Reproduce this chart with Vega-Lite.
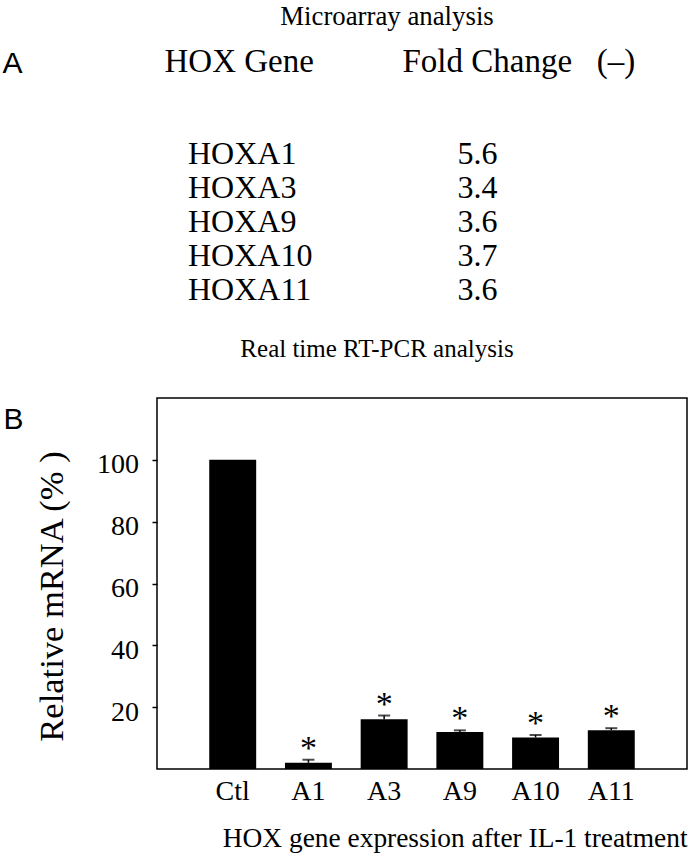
{
  "$schema": "https://vega.github.io/schema/vega-lite/v6.json",
  "padding": {"left": 2, "top": 4, "right": 0, "bottom": 0},
  "background": "white",
  "config": {
    "font": "Liberation Serif",
    "view": {"stroke": null},
    "text": {"font": "Liberation Serif"},
    "style": {"guide-label": {"font": "Liberation Serif"}, "guide-title": {"font": "Liberation Serif"}},
    "axis": {"labelColor": "black", "titleColor": "black", "tickColor": "black", "domainColor": "black", "titleFontWeight": "normal", "labelFont": "Liberation Serif", "titleFont": "Liberation Serif", "grid": false},
    "title": {"color": "black", "fontWeight": "normal", "font": "Liberation Serif"}
  },
  "bounds": "flush",
  "spacing": 76,
  "vconcat": [
    {
      "width": 530,
      "height": 230,
      "view": {"stroke": null},
      "title": {"text": "Microarray analysis", "font": "Liberation Serif", "fontSize": 26.8, "anchor": "middle", "frame": "group", "dx": -35, "baseline": "alphabetic", "offset": -7},
      "data": {"values": [
        {"gene": "HOXA1", "fold": 5.6},
        {"gene": "HOXA3", "fold": 3.4},
        {"gene": "HOXA9", "fold": 3.6},
        {"gene": "HOXA10", "fold": 3.7},
        {"gene": "HOXA11", "fold": 3.6}
      ]},
      "encoding": {
        "y": {"field": "gene", "type": "nominal", "sort": null,
          "scale": {"type": "point", "range": [62, 198], "padding": 0},
          "axis": {"labels": false, "ticks": false, "domain": false, "title": "B", "titleAngle": 0, "titleX": -154, "titleY": 336, "titleAlign": "left", "titleBaseline": "alphabetic", "titleFont": "Liberation Sans", "titleFontSize": 30}}
      },
      "layer": [
        {
          "mark": {"type": "text", "font": "Liberation Serif", "align": "left", "baseline": "middle", "fontSize": 32, "dx": 24, "color": "black"},
          "encoding": {
            "x": {"datum": "HOX Gene", "type": "nominal",
              "scale": {"type": "point", "domain": ["HOX Gene", "Fold Change"], "range": [7, 245], "padding": 0},
              "axis": {"orient": "top", "title": "A", "titleX": -155, "titleY": -20, "titleAlign": "left", "titleBaseline": "alphabetic", "titleFont": "Liberation Sans", "titleFontSize": 30,
                "labelFont": "Liberation Serif", "labelFontSize": 33, "labelAlign": "left", "labelBaseline": "alphabetic", "labelPadding": 21, "ticks": false, "tickSize": 0, "domain": false, "labelLimit": 0, "labelFlush": false, "labelOverlap": false, "labelAngle": 0,
                "labelExpr": "datum.value == 'Fold Change' ? 'Fold Change\u2002 (\u2013)' : datum.value"}},
            "text": {"field": "gene"}
          }
        },
        {
          "mark": {"type": "text", "font": "Liberation Serif", "align": "center", "baseline": "middle", "fontSize": 32, "dx": 75.5, "color": "black"},
          "encoding": {
            "x": {"datum": "Fold Change", "type": "nominal"},
            "text": {"field": "fold", "type": "quantitative", "format": ".1f"}
          }
        }
      ]
    },
    {
      "width": 530,
      "height": 371,
      "view": {"stroke": "black", "strokeWidth": 1.5},
      "title": {"text": "Real time RT-PCR analysis", "font": "Liberation Serif", "fontSize": 25, "anchor": "middle", "frame": "group", "dx": -45, "baseline": "alphabetic", "offset": 16},
      "data": {"values": [
        {"group": "Ctl", "value": 100},
        {"group": "A1", "value": 2.0, "upper": 3.0, "star": "*"},
        {"group": "A3", "value": 16.1, "upper": 17.3, "star": "*"},
        {"group": "A9", "value": 12.0, "upper": 12.5, "star": "*"},
        {"group": "A10", "value": 10.2, "upper": 11.0, "star": "*"},
        {"group": "A11", "value": 12.5, "upper": 13.2, "star": "*"}
      ]},
      "encoding": {
        "x": {"field": "group", "type": "nominal", "sort": null,
          "scale": {"paddingInner": 0.38, "paddingOuter": 0.69},
          "axis": {"title": "HOX gene expression after IL-1 treatment", "titleFont": "Liberation Serif", "titleFontSize": 27.4, "titleAnchor": "end", "titleAlign": "right", "titleY": 77, "titleBaseline": "alphabetic",
            "labelFont": "Liberation Serif", "labelFontSize": 28, "labelAngle": 0, "labelBaseline": "alphabetic", "labelPadding": 30, "ticks": false, "tickSize": 0, "domain": false}}
      },
      "layer": [
        {
          "mark": {"type": "bar", "color": "black"},
          "encoding": {
            "y": {"field": "value", "type": "quantitative",
              "scale": {"domain": [0, 120], "nice": false},
              "axis": {"values": [20, 40, 60, 80, 100], "title": "Relative mRNA (% )", "titleFont": "Liberation Serif", "titleFontSize": 34.5, "titleX": -105, "titleY": 198, "titleBaseline": "middle", "titleAlign": "center",
                "labelFont": "Liberation Serif", "labelFontSize": 28, "labelPadding": 13.5, "labelBaseline": "alphabetic", "labelOffset": 13, "tickSize": 5, "tickWidth": 1.5, "domain": false, "labelFlush": false}}
          }
        },
        {
          "mark": {"type": "rule", "color": "black", "strokeWidth": 1.5},
          "encoding": {
            "y": {"field": "value", "type": "quantitative"},
            "y2": {"field": "upper"}
          }
        },
        {
          "mark": {"type": "tick", "color": "black", "thickness": 2},
          "encoding": {
            "y": {"field": "upper", "type": "quantitative"},
            "size": {"value": 12}
          }
        },
        {
          "mark": {"type": "text", "font": "Liberation Serif", "fontSize": 34, "baseline": "alphabetic", "dy": -1, "color": "black"},
          "encoding": {
            "y": {"field": "upper", "type": "quantitative"},
            "text": {"field": "star"}
          }
        }
      ]
    }
  ]
}
